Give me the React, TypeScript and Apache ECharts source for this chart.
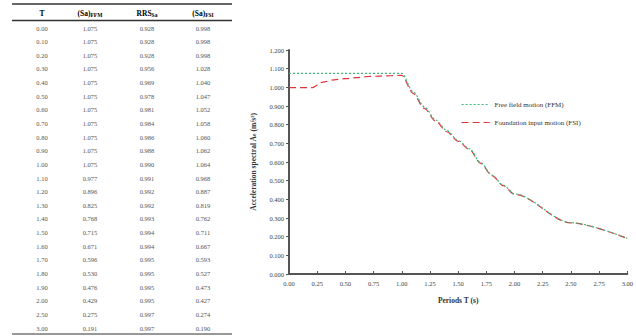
import React, { useEffect, useRef } from "react";
import * as echarts from "echarts";

const PERIODS = [0.0, 0.1, 0.2, 0.3, 0.4, 0.5, 0.6, 0.7, 0.8, 0.9, 1.0, 1.1, 1.2, 1.3, 1.4, 1.5, 1.6, 1.7, 1.8, 1.9, 2.0, 2.5, 3.0];
const SA_FFM = [1.075, 1.075, 1.075, 1.075, 1.075, 1.075, 1.075, 1.075, 1.075, 1.075, 1.075, 0.977, 0.896, 0.825, 0.768, 0.715, 0.671, 0.596, 0.530, 0.476, 0.429, 0.275, 0.191];
const RRS_SA = [0.928, 0.928, 0.928, 0.956, 0.969, 0.978, 0.981, 0.984, 0.986, 0.988, 0.990, 0.991, 0.992, 0.992, 0.993, 0.994, 0.994, 0.995, 0.995, 0.995, 0.995, 0.997, 0.997];
const SA_FSI = [0.998, 0.998, 0.998, 1.028, 1.040, 1.047, 1.052, 1.058, 1.060, 1.062, 1.064, 0.968, 0.887, 0.819, 0.762, 0.711, 0.667, 0.593, 0.527, 0.473, 0.427, 0.274, 0.190];

const SERIES_NAMES = ["Free field motion (FFM)", "Foundation input motion (FSI)"];
const X_AXIS_NAME = "Periods T (s)";

const SERIF = "'Liberation Serif', 'DejaVu Serif', serif";

export default function App() {
  const ref = useRef<HTMLDivElement>(null);

  useEffect(() => {
    if (!ref.current) return;
    const chart = echarts.init(ref.current, undefined, { renderer: "svg" });

    const colX = [42, 90, 147, 203];
    const rowTop = 28;
    const rowStep = 13.64;
    const tableLeft = 12;
    const tableRight = 232;
    const graphics: any[] = [];
    const hLine = (y: number, w: number) => ({
      type: "line",
      shape: { x1: tableLeft, y1: y, x2: tableRight, y2: y },
      style: { stroke: "#333", lineWidth: w },
      silent: true,
    });
    graphics.push(hLine(4, 1.6));
    graphics.push(hLine(20.5, 1.6));
    graphics.push(hLine(334, 1.2));

    const headerRich = {
      h: { fontFamily: SERIF, fontSize: 7.5, fontWeight: "bold", color: "#222" },
      s: { fontFamily: SERIF, fontSize: 5.5, fontWeight: "bold", color: "#222", verticalAlign: "bottom", padding: [4, 0, 0, 0] },
    };
    const headers = ["{h|T}", "{h|(Sa)}{s|FFM}", "{h|RRS}{s|Sa}", "{h|(Sa)}{s|FSI}"];
    headers.forEach((h, i) => {
      graphics.push({
        type: "text",
        x: colX[i],
        y: 13,
        silent: true,
        style: { text: h, rich: headerRich, align: "center", verticalAlign: "middle" },
      });
    });

    PERIODS.forEach((t, r) => {
      const vals = [t.toFixed(2), SA_FFM[r].toFixed(3), RRS_SA[r].toFixed(3), SA_FSI[r].toFixed(3)];
      vals.forEach((v, c) => {
        graphics.push({
          type: "text",
          x: colX[c],
          y: rowTop + r * rowStep,
          silent: true,
          style: {
            text: v,
            fontFamily: SERIF,
            fontSize: 6.5,
            fill: "#555",
            align: "center",
            verticalAlign: "middle",
          },
        });
      });
    });

    const option: any = {
      animation: false,
      backgroundColor: "#fff",
      textStyle: { fontFamily: SERIF },
      grid: { left: 289, top: 50, width: 346, height: 224, containLabel: false },
      legend: {
        orient: "vertical",
        left: 456,
        top: 96,
        itemGap: 11,
        itemWidth: 28,
        itemHeight: 8,
        itemStyle: { opacity: 0, borderWidth: 0 },
        lineStyle: { width: 1.2 },
        textStyle: { fontFamily: SERIF, fontSize: 7, color: "#333" },
        data: SERIES_NAMES,
      },
      xAxis: {
        type: "value",
        min: 0,
        max: 3,
        interval: 0.25,
        name: X_AXIS_NAME,
        nameLocation: "middle",
        nameGap: 22,
        nameTextStyle: { fontFamily: SERIF, fontSize: 7.5, fontWeight: "bold", color: "#333" },
        axisLine: { show: true, lineStyle: { color: "#555", width: 2 } },
        axisTick: { show: true, inside: true, length: 3, lineStyle: { color: "#555" } },
        axisLabel: {
          fontFamily: SERIF,
          fontSize: 6.5,
          color: "#444",
          margin: 6,
          formatter: (v: number) => v.toFixed(2),
        },
        splitLine: { show: false },
      },
      yAxis: {
        type: "value",
        min: 0,
        max: 1.2,
        interval: 0.1,
        name: "{b|Acceleration spectral A}{s|e}{b| (m/s²)}",
        nameLocation: "middle",
        nameGap: 32,
        nameRotate: 90,
        nameTextStyle: {
          rich: {
            b: { fontFamily: SERIF, fontSize: 7.5, fontWeight: "bold", color: "#333" },
            s: { fontFamily: SERIF, fontSize: 5.5, fontWeight: "bold", color: "#333", verticalAlign: "bottom" },
          },
        },
        axisLine: { show: true, lineStyle: { color: "#555", width: 2 } },
        axisTick: { show: true, inside: false, length: 3, lineStyle: { color: "#555" } },
        axisLabel: {
          fontFamily: SERIF,
          fontSize: 6.5,
          color: "#444",
          margin: 5,
          formatter: (v: number) => v.toFixed(3),
        },
        splitLine: { show: false },
      },
      series: [
        {
          name: SERIES_NAMES[0],
          type: "line",
          showSymbol: false,
          symbol: "none",
          smooth: 0.3,
          smoothMonotone: "x",
          data: PERIODS.map((t, i) => [t, SA_FFM[i]]),
          lineStyle: { color: "#3cb878", width: 1.2, type: [2, 2] },
          itemStyle: { color: "#3cb878" },
          z: 3,
        },
        {
          name: SERIES_NAMES[1],
          type: "line",
          showSymbol: false,
          symbol: "none",
          smooth: 0.3,
          smoothMonotone: "x",
          data: PERIODS.map((t, i) => [t, SA_FSI[i]]),
          lineStyle: { color: "#e0353f", width: 1.2, type: [7, 4] },
          itemStyle: { color: "#e0353f" },
          z: 2,
        },
      ],
      graphic: graphics,
    };

    chart.setOption(option);
    return () => chart.dispose();
  }, []);

  return (
    <div
      ref={ref}
      style={{ position: "fixed", left: 0, top: 0, width: 636, height: 336, background: "#fff" }}
    />
  );
}
